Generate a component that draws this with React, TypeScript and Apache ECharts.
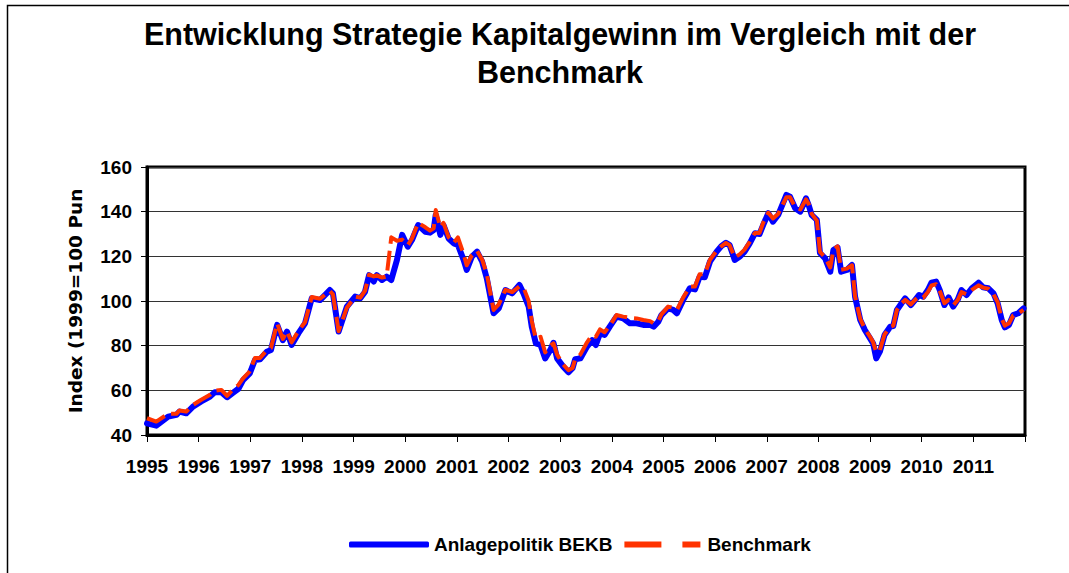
import React, { useEffect, useRef } from "react";
import * as echarts from "echarts";

const titleText = "Entwicklung Strategie Kapitalgewinn im Vergleich mit der\nBenchmark";
const yAxisName = "Index (1999=100 Pun";
const seriesNames = ["Anlagepolitik BEKB", "Benchmark"];

const dates = [
  1995.0, 1995.18, 1995.41, 1995.57, 1995.63, 1995.76, 1995.89, 1996.05, 1996.22, 1996.31,
  1996.44, 1996.55, 1996.67, 1996.77, 1996.86, 1996.99, 1997.09, 1997.19, 1997.32, 1997.4,
  1997.52, 1997.63, 1997.71, 1997.8, 1997.93, 1998.06, 1998.19, 1998.35, 1998.54, 1998.6,
  1998.71, 1998.87, 1999.03, 1999.13, 1999.22, 1999.3, 1999.39, 1999.45, 1999.55, 1999.64,
  1999.73, 1999.84, 1999.94, 2000.05, 2000.13, 2000.25, 2000.39, 2000.48, 2000.55, 2000.59,
  2000.68, 2000.74, 2000.84, 2000.94, 2001.02, 2001.13, 2001.19, 2001.29, 2001.39, 2001.49,
  2001.58, 2001.71, 2001.81, 2001.94, 2002.07, 2002.21, 2002.29, 2002.39, 2002.45, 2002.53,
  2002.62, 2002.71, 2002.81, 2002.87, 2002.94, 2003.06, 2003.16, 2003.24, 2003.29, 2003.39,
  2003.52, 2003.62, 2003.69, 2003.77, 2003.86, 2003.96, 2004.09, 2004.22, 2004.35, 2004.48,
  2004.61, 2004.74, 2004.81, 2004.9, 2004.96, 2005.09, 2005.19, 2005.26, 2005.38, 2005.51,
  2005.61, 2005.7, 2005.8, 2005.9, 2006.03, 2006.12, 2006.21, 2006.28, 2006.38, 2006.48,
  2006.57, 2006.67, 2006.77, 2006.86, 2006.93, 2007.03, 2007.12, 2007.22, 2007.38, 2007.45,
  2007.55, 2007.65, 2007.76, 2007.81, 2007.87, 2007.97, 2008.03, 2008.13, 2008.23, 2008.29,
  2008.37, 2008.44, 2008.55, 2008.65, 2008.71, 2008.81, 2008.9, 2009.0, 2009.06, 2009.12,
  2009.19, 2009.28, 2009.39, 2009.45, 2009.52, 2009.61, 2009.68, 2009.79, 2009.87, 2009.95,
  2010.03, 2010.12, 2010.19, 2010.28, 2010.35, 2010.44, 2010.52, 2010.61, 2010.7, 2010.77,
  2010.87, 2010.97, 2011.1, 2011.19, 2011.29, 2011.39, 2011.47, 2011.55, 2011.61, 2011.69,
  2011.77, 2011.87, 2011.97,
];

const anlageValues = [
  45.2, 44.2, 48.2, 49.0, 50.5, 49.7, 52.7, 55.0, 57.2, 59.1,
  59.1, 56.9, 59.0, 60.7, 64.6, 67.6, 73.6, 73.9, 77.3, 78.1,
  89.3, 82.5, 86.3, 80.3, 85.5, 90.0, 101.2, 100.4, 104.9, 103.4,
  86.3, 97.5, 102.0, 101.2, 104.0, 111.6, 108.7, 111.6, 109.4, 110.9,
  109.4, 118.4, 129.6, 124.3, 127.3, 134.0, 131.0, 130.6, 131.8, 138.5,
  129.6, 134.0, 128.0, 125.8, 125.1, 118.4, 113.9, 119.9, 122.1, 117.6,
  110.1, 94.5, 96.7, 104.9, 103.4, 107.2, 103.4, 97.5, 88.5, 81.0,
  80.3, 74.3, 78.1, 81.3, 74.3, 70.6, 68.1, 69.9, 73.9, 74.3,
  79.6, 82.5, 80.3, 85.5, 84.8, 88.5, 93.0, 92.2, 90.0, 90.0,
  89.3, 89.3, 88.5, 90.7, 93.7, 96.7, 96.0, 94.5, 100.4, 105.7,
  105.2, 110.9, 110.6, 117.6, 122.1, 124.6, 126.1, 125.1, 118.4, 119.9,
  122.1, 125.8, 130.3, 130.0, 134.0, 139.3, 135.5, 138.5, 147.5, 146.7,
  141.5, 140.0, 146.0, 143.0, 138.5, 136.3, 121.5, 119.1, 113.1, 122.8,
  124.0, 113.1, 113.9, 116.1, 101.9, 91.5, 87.0, 83.3, 81.0, 74.3,
  77.3, 84.8, 88.5, 88.8, 96.0, 99.0, 101.2, 98.2, 100.4, 102.7,
  101.9, 104.9, 108.2, 108.7, 104.9, 98.2, 101.6, 97.5, 100.7, 104.9,
  102.7, 105.7, 108.2, 106.1, 105.7, 103.4, 99.0, 91.5, 88.2, 89.3,
  93.7, 94.5, 96.7,
];

const benchmarkValues = [
  47.5, 46.0, 49.5, 49.5, 51.0, 50.5, 53.5, 55.8, 58.0, 59.8,
  60.2, 57.5, 60.5, 62.4, 65.4, 68.5, 74.5, 74.5, 78.0, 79.0,
  90.0, 83.0, 86.5, 81.5, 86.5, 90.5, 101.8, 101.0, 104.5, 103.0,
  86.5, 97.0, 102.0, 101.5, 104.5, 111.8, 111.0, 111.5, 110.5, 111.0,
  128.5, 127.0, 127.5, 125.0, 128.0, 135.0, 133.0, 131.5, 132.5, 140.7,
  133.0, 135.0, 128.5, 126.0, 128.5, 121.0, 116.0, 120.5, 122.5, 118.5,
  112.0, 96.0, 98.5, 105.0, 104.0, 106.5, 106.0, 100.0, 91.0, 83.0,
  84.0, 77.0, 80.0, 81.0, 76.0, 71.5, 69.0, 70.0, 74.0, 76.0,
  81.5, 84.8, 84.0, 87.3, 86.0, 89.0, 93.7, 93.0, 92.5, 92.2,
  91.5, 91.0, 90.0, 91.0, 94.0, 97.5, 97.0, 96.0, 101.5, 106.5,
  106.5, 112.0, 112.0, 118.5, 122.5, 124.5, 126.0, 125.0, 119.5, 121.0,
  123.0, 126.5, 130.5, 130.5, 135.0, 139.5, 137.0, 139.0, 146.5, 146.5,
  142.0, 141.0, 145.5, 143.5, 139.0, 136.0, 122.0, 119.5, 115.0, 123.0,
  124.5, 114.0, 114.5, 116.0, 102.0, 92.0, 87.5, 84.0, 81.5, 77.0,
  78.0, 85.0, 88.5, 89.0, 96.0, 99.0, 100.5, 98.5, 100.5, 102.0,
  101.5, 104.0, 107.0, 107.5, 104.5, 99.0, 100.5, 98.0, 100.5, 104.0,
  103.0, 105.0, 107.0, 106.0, 105.5, 103.0, 99.5, 92.0, 89.0, 90.0,
  93.5, 94.5, 96.0,
];

const xMin = 1995;
const xMax = 2012;
const yMin = 40;
const yMax = 160;
const yStep = 20;

const FONT = "'Liberation Sans', Arial, sans-serif";

export default function App() {
  const ref = useRef<HTMLDivElement>(null);

  useEffect(() => {
    if (!ref.current) return;
    const chart = echarts.init(ref.current, undefined, { renderer: "svg" });
    const blueData = dates.map((d, i) => [d, anlageValues[i]]);
    const redData = dates.map((d, i) => [d, benchmarkValues[i]]);
    chart.setOption({
      animation: false,
      backgroundColor: "#ffffff",
      title: {
        text: titleText,
        left: 555,
        top: 10,
        textAlign: "center",
        textStyle: {
          fontFamily: FONT,
          fontWeight: "bold",
          fontSize: 30.5,
          lineHeight: 38,
          color: "#000",
        },
      },
      graphic: [
        {
          type: "rect",
          shape: { x: 7.5, y: 5.5, width: 1100, height: 700 },
          style: { fill: "none", stroke: "#000", lineWidth: 1.5 },
          silent: true,
        },
      ],
      legend: {
        left: 349,
        top: 535,
        padding: 0,
        itemWidth: 80,
        itemHeight: 6,
        itemGap: 12,
        data: [
          { name: seriesNames[0], icon: "roundRect" },
          { name: seriesNames[1], icon: "path://M0,0H37V6H0Z M58,0H76V6H58Z" },
        ],
        textStyle: {
          fontFamily: FONT,
          fontWeight: "bold",
          fontSize: 19,
          color: "#000",
        },
      },
      grid: {
        left: 147,
        top: 167,
        right: 44,
        bottom: 138,
        show: true,
        borderColor: "#000",
        borderWidth: 3,
        backgroundColor: "transparent",
      },
      xAxis: {
        type: "value",
        min: xMin,
        max: xMax,
        interval: 1,
        axisLine: { show: true, lineStyle: { color: "#000", width: 3 } },
        axisTick: { show: true, length: 7, lineStyle: { color: "#000", width: 1 } },
        splitLine: { show: false },
        axisLabel: {
          margin: 22,
          fontFamily: FONT,
          fontWeight: "bold",
          fontSize: 19,
          color: "#000",
          formatter: (v: number) => (v >= xMax ? "" : String(Math.round(v))),
        },
      },
      yAxis: {
        type: "value",
        min: yMin,
        max: yMax,
        interval: yStep,
        name: yAxisName,
        nameLocation: "middle",
        nameRotate: 90,
        nameGap: 62,
        nameTextStyle: {
          fontFamily: "'DejaVu Sans', sans-serif",
          fontWeight: "bold",
          fontSize: 18.5,
          color: "#000",
        },
        axisLine: { show: true, lineStyle: { color: "#000", width: 3 } },
        axisTick: { show: true, length: 6, lineStyle: { color: "#000", width: 1 } },
        splitLine: { show: true, lineStyle: { color: "#333", width: 1 } },
        axisLabel: {
          margin: 15,
          fontFamily: FONT,
          fontWeight: "bold",
          fontSize: 19,
          color: "#000",
        },
      },
      series: [
        {
          name: seriesNames[0],
          type: "line",
          data: blueData,
          symbol: "none",
          showSymbol: false,
          lineStyle: { color: "#0000FF", width: 6, cap: "round", join: "round" },
          itemStyle: { color: "#0000FF" },
          z: 2,
        },
        {
          name: seriesNames[1],
          type: "line",
          data: redData,
          symbol: "none",
          showSymbol: false,
          lineStyle: { color: "#FF3300", width: 4, type: [20, 7], join: "round" },
          itemStyle: { color: "#FF3300" },
          z: 3,
        },
      ],
    });
    return () => chart.dispose();
  }, []);

  return (
    <div
      ref={ref}
      style={{ position: "fixed", left: 0, top: 0, width: 1069, height: 573 }}
    />
  );
}
